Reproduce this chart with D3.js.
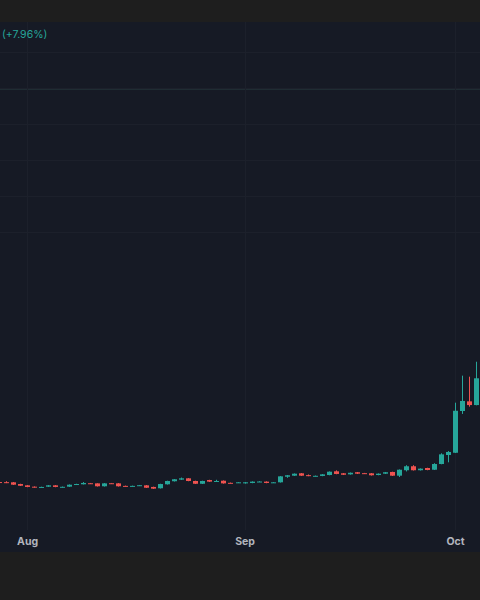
<!DOCTYPE html>
<html>
<head>
<meta charset="utf-8">
<script src="https://cdn.jsdelivr.net/npm/d3@7"></script>
<style>
  html, body { margin: 0; padding: 0; background: #1e1e1e; }
  svg { display: block; }
</style>
</head>
<body>
<div id="chart"></div>
<script>
// Daily candles, Jul 28 -> Oct 4
const START_DATE = "2024-07-28";
const OPENS = [1.028, 1.027, 1.026, 1.013, 1.003, 0.993, 0.989, 0.993, 1.003, 0.989,
  0.993, 1.010, 1.011, 1.019, 1.018, 0.996, 1.019, 1.018, 0.999, 0.997,
  1.002, 1.003, 0.991, 0.981, 1.011, 1.034, 1.046, 1.056, 1.036, 1.015,
  1.043, 1.034, 1.038, 1.022, 1.024,
  1.018, 1.021, 1.030, 1.031, 1.024, 1.026, 1.068, 1.076, 1.094, 1.080,
  1.073, 1.074, 1.081, 1.109, 1.094, 1.086, 1.102, 1.095, 1.094, 1.081,
  1.091, 1.104, 1.076, 1.117, 1.147, 1.117, 1.134, 1.121, 1.164, 1.232,
  1.249, 1.564, 1.637, 1.609];
const CLOSES = [1.026, 1.026, 1.008, 1.000, 0.991, 0.988, 0.991, 1.003, 0.991, 0.992,
  1.008, 1.013, 1.021, 1.017, 0.996, 1.018, 1.018, 0.996, 0.997, 0.999,
  1.004, 0.985, 0.978, 1.013, 1.036, 1.049, 1.056, 1.036, 1.015, 1.036,
  1.031, 1.036, 1.018, 1.020, 1.026,
  1.026, 1.031, 1.032, 1.021, 1.026, 1.071, 1.079, 1.091, 1.076, 1.078,
  1.075, 1.086, 1.106, 1.089, 1.083, 1.098, 1.091, 1.093, 1.079, 1.091,
  1.102, 1.076, 1.121, 1.147, 1.117, 1.129, 1.119, 1.164, 1.237, 1.255,
  1.566, 1.640, 1.609, 1.811];
// wick extremes where they reach past the body (others get a small default wick)
const HIGHS = {1: 1.034, 12: 1.028, 14: 1.018, 26: 1.062, 31: 1.045, 48: 1.116,
  44: 1.085, 58: 1.155, 59: 1.155, 62: 1.170, 63: 1.245, 64: 1.262, 65: 1.627,
  66: 1.831, 67: 1.823, 68: 1.936};
const LOWS = {1: 1.020, 12: 1.010, 41: 1.060, 44: 1.072, 57: 1.066, 58: 1.108,
  64: 1.177, 66: 1.542, 67: 1.597};
const MONTH_TICKS = ["2024-08-01", "2024-09-01", "2024-10-01"];
const CHANGE_LABEL = "(+7.96%)";

const WIDTH = 480, HEIGHT = 600;
const PLOT = {top: 22, bottom: 552};
const UP = "#26a69a", DOWN = "#ef5350";

const parse = d3.utcParse("%Y-%m-%d");
const start = parse(START_DATE);
const candles = OPENS.map((o, i) => {
  const c = CLOSES[i];
  return {
    date: d3.utcDay.offset(start, i), open: o, close: c,
    high: HIGHS[i] || Math.max(o, c) + 0.002,
    low: LOWS[i] || Math.min(o, c) - 0.002
  };
});

const x = d3.scaleUtc()
  .domain([start, d3.utcDay.offset(start, OPENS.length - 1)])
  .range([-1, 476]);
const y = d3.scaleLinear().domain([0.5, 4.5]).range([PLOT.bottom, PLOT.top]);

const svg = d3.select("#chart").append("svg")
  .attr("width", WIDTH).attr("height", HEIGHT);

svg.append("rect").attr("width", WIDTH).attr("height", HEIGHT).attr("fill", "#1e1e1e");
svg.append("rect").attr("x", 0).attr("y", PLOT.top)
  .attr("width", WIDTH).attr("height", PLOT.bottom - PLOT.top).attr("fill", "#161a25");

// Grid
svg.append("g").selectAll("line")
  .data(d3.range(52, 240, 36)).enter().append("line")
  .attr("x1", 0).attr("x2", WIDTH).attr("y1", d => d + 0.5).attr("y2", d => d + 0.5)
  .attr("stroke", "#1c202b");
svg.append("line").attr("x1", 0).attr("x2", WIDTH).attr("y1", 89.5).attr("y2", 89.5)
  .attr("stroke", "#1f2c33");
svg.append("g").selectAll("line")
  .data(MONTH_TICKS.map(parse)).enter().append("line")
  .attr("x1", d => Math.round(x(d)) + 0.5).attr("x2", d => Math.round(x(d)) + 0.5)
  .attr("y1", PLOT.top).attr("y2", 530)
  .attr("stroke", "#1c202b");

// Candles
const g = svg.append("g");
g.selectAll("line.wick").data(candles).enter().append("line")
  .attr("class", "wick")
  .attr("x1", d => Math.round(x(d.date)) + 0.5).attr("x2", d => Math.round(x(d.date)) + 0.5)
  .attr("y1", d => y(d.high)).attr("y2", d => y(d.low))
  .attr("stroke", d => d.close >= d.open ? UP : DOWN).attr("stroke-width", 1);
g.selectAll("rect.body").data(candles).enter().append("rect")
  .attr("class", "body")
  .attr("x", d => Math.round(x(d.date)) - 2)
  .attr("width", 5)
  .attr("y", d => y(Math.max(d.open, d.close)))
  .attr("height", d => Math.max(1, Math.abs(y(d.open) - y(d.close))))
  .attr("fill", d => d.close >= d.open ? UP : DOWN);

// Time axis
const axis = svg.append("g")
  .attr("transform", "translate(0," + 532 + ")")
  .call(d3.axisBottom(x).tickValues(MONTH_TICKS.map(parse))
    .tickFormat(d3.utcFormat("%b")).tickSize(0).tickPadding(6));
axis.select(".domain").remove();
axis.selectAll("text")
  .attr("fill", "#b2b5be").attr("font-size", "10.5px").attr("font-weight", "bold")
  .attr("font-family", "Inter, 'DejaVu Sans', sans-serif");

svg.append("text").attr("x", 2).attr("y", 38)
  .attr("fill", UP).attr("font-size", "10.5px")
  .attr("font-family", "Inter, 'DejaVu Sans', sans-serif")
  .text(CHANGE_LABEL);
</script>
</body>
</html>
